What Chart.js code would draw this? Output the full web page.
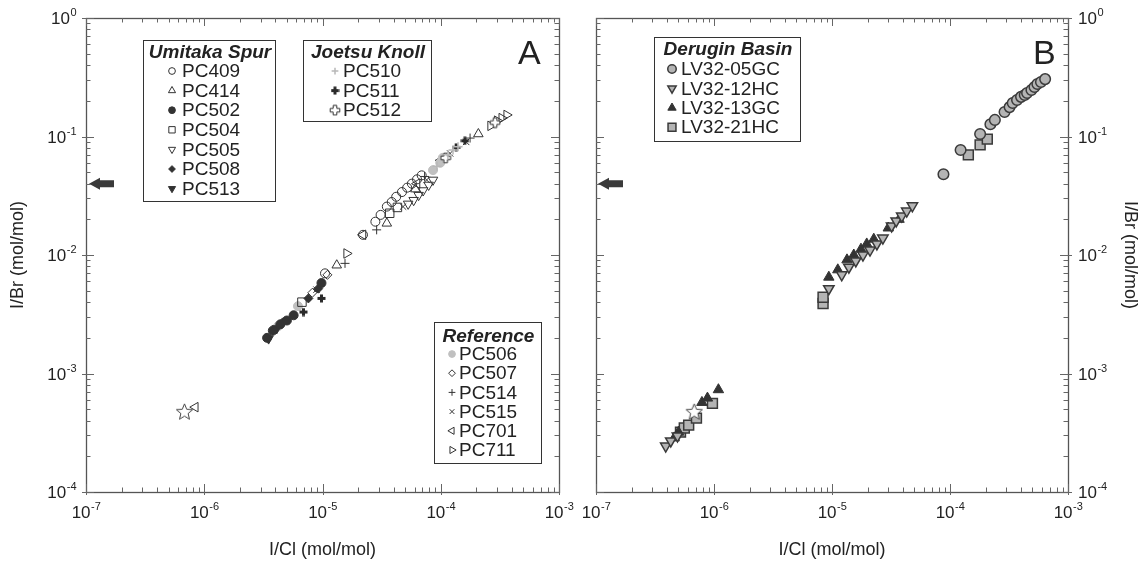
<!DOCTYPE html>
<html>
<head>
<meta charset="utf-8">
<title>I/Br vs I/Cl</title>
<script src="https://cdn.jsdelivr.net/npm/chart.js@4.4.1/dist/chart.umd.min.js"></script>
<style>
  html, body { margin: 0; padding: 0; background: #fff; }
  #wrap { position: relative; width: 1144px; height: 561px; }
  #wrap canvas { position: absolute; top: 0; }
  #panelA { left: 0; }
  #panelB { left: 572px; }
</style>
</head>
<body>
<div id="wrap">
  <canvas id="panelA" width="600" height="561"></canvas>
  <canvas id="panelB" width="572" height="561"></canvas>
</div>
<script>
// axis ranges and decade labels (exponents of 10)
const xRange = [1e-7, 1e-3];
const yRange = [1e-4, 1];
const xDecades = [-7, -6, -5, -4, -3];
const yDecades = [-4, -3, -2, -1, 0];

// seawater (star) and the level marked by the arrow on the I/Br axis
const seawater = [[6.8e-7, 4.8e-4]];
const arrowLevel = 0.04;

// Panel A - [I/Cl, I/Br] for each core
const pc409 = [[1.05e-5, 0.0070], [2.2e-5, 0.0148], [2.8e-5, 0.0191], [3.1e-5, 0.0218], [3.5e-5, 0.0256], [3.85e-5, 0.028], [4.2e-5, 0.031], [4.7e-5, 0.034], [5.2e-5, 0.037], [5.7e-5, 0.040], [6.3e-5, 0.0435], [6.9e-5, 0.047]];
const pc414 = [[1.32e-5, 0.0082], [3.5e-5, 0.0185], [6.1e-5, 0.036], [2.08e-4, 0.105]];
const pc502 = [[3.4e-6, 0.0020], [3.8e-6, 0.0023], [4.4e-6, 0.0026], [5.0e-6, 0.0028], [5.7e-6, 0.0031], [9.8e-6, 0.0058]];
const pc504 = [[6.7e-6, 0.0040], [3.7e-5, 0.0225], [4.3e-5, 0.0252]];
const pc505 = [[5.3e-5, 0.027], [5.9e-5, 0.029], [6.5e-5, 0.032], [7.1e-5, 0.035], [7.9e-5, 0.039], [8.6e-5, 0.043]];
const pc508 = [[4.6e-6, 0.0027], [7.6e-6, 0.0043], [9.2e-6, 0.0052]];
const pc513 = [[3.5e-6, 0.00197], [4.1e-6, 0.0024]];
const pc510 = [[9.3e-5, 0.056], [1.15e-4, 0.070], [1.27e-4, 0.077], [1.4e-4, 0.082]];
const pc511 = [[6.9e-6, 0.0033], [9.8e-6, 0.0043], [1.35e-4, 0.081], [1.6e-4, 0.092]];
const pc512 = [[1.1e-4, 0.066], [2.88e-4, 0.131]];
const pc506 = [[4.2e-6, 0.0025], [6.2e-6, 0.0037], [8.6e-5, 0.052], [9.9e-5, 0.060], [1.04e-4, 0.066]];
const pc507 = [[8.2e-6, 0.0048], [1.1e-5, 0.0068]];
const pc514 = [[1.55e-5, 0.0085], [2.87e-5, 0.0163], [7.3e-5, 0.046], [1.77e-4, 0.097]];
const pc515 = [[8.9e-6, 0.0051], [4.8e-5, 0.0256], [7.6e-5, 0.043], [1.2e-4, 0.072], [1.64e-4, 0.090]];
const pc701 = [[8.4e-7, 5.2e-4], [2.2e-5, 0.0148], [6.3e-5, 0.040], [1.0e-4, 0.063]];
const pc711 = [[1.6e-5, 0.0103], [2.64e-4, 0.123], [3.0e-4, 0.136], [3.28e-4, 0.143], [3.61e-4, 0.152]];

// Panel B - Derugin Basin cores
const lv05gc = [[8.8e-5, 0.048], [1.23e-4, 0.077], [1.8e-4, 0.105], [2.2e-4, 0.127], [2.4e-4, 0.138], [2.9e-4, 0.161], [3.2e-4, 0.177], [3.4e-4, 0.192], [3.7e-4, 0.203], [4.0e-4, 0.216], [4.3e-4, 0.224], [4.5e-4, 0.233], [4.9e-4, 0.247], [5.2e-4, 0.262], [5.5e-4, 0.277], [5.9e-4, 0.288], [6.4e-4, 0.305]];
const lv12hc = [[3.9e-7, 2.44e-4], [4.3e-7, 2.7e-4], [4.9e-7, 2.97e-4], [9.4e-6, 5.2e-3], [1.21e-5, 6.8e-3], [1.39e-5, 7.9e-3], [1.59e-5, 8.9e-3], [1.83e-5, 1.0e-2], [2.1e-5, 1.1e-2], [2.4e-5, 1.24e-2], [2.7e-5, 1.39e-2], [3.2e-5, 1.76e-2], [3.5e-5, 1.94e-2], [3.9e-5, 2.13e-2], [4.3e-5, 2.35e-2], [4.8e-5, 2.6e-2]];
const lv13gc = [[4.6e-7, 2.86e-4], [5.0e-7, 3.2e-4], [7.9e-7, 5.7e-4], [8.8e-7, 6.2e-4], [1.09e-6, 7.3e-4], [9.4e-6, 6.5e-3], [1.12e-5, 7.5e-3], [1.34e-5, 9.1e-3], [1.53e-5, 1.0e-2], [1.76e-5, 1.12e-2], [1.97e-5, 1.24e-2], [2.26e-5, 1.36e-2], [3.0e-5, 1.69e-2], [3.7e-5, 2.0e-2]];
const lv21hc = [[5.2e-7, 3.2e-4], [5.6e-7, 3.47e-4], [6.1e-7, 3.67e-4], [7.1e-7, 4.2e-4], [9.7e-7, 5.6e-4], [8.4e-6, 3.9e-3], [8.4e-6, 4.4e-3], [1.43e-4, 0.070], [1.8e-4, 0.085], [2.07e-4, 0.095]];

const FONT = '"Liberation Sans", Arial, sans-serif';
const INK = '#222';
const DARK = '#333';
const NONE = 'rgba(0,0,0,0)';

// small canvases used as point styles for the shapes Chart.js lacks
function icon(size, draw) {
  const c = document.createElement('canvas');
  c.width = size; c.height = size;
  draw(c.getContext('2d'), size / 2);
  return c;
}
const boldPlus = icon(9, (g, m) => {
  g.fillStyle = '#2a2a2a';
  g.fillRect(m - 1.5, 0.5, 3, 8);
  g.fillRect(0.5, m - 1.5, 8, 3);
});
const hollowPlus = icon(12, (g, m) => {
  const a = 1.8, b = 4.8;
  const pts = [[-a, -b], [a, -b], [a, -a], [b, -a], [b, a], [a, a], [a, b], [-a, b], [-a, a], [-b, a], [-b, -a], [-a, -a]];
  g.beginPath();
  pts.forEach(([px, py]) => g.lineTo(m + px, m + py));
  g.closePath();
  g.fillStyle = '#fff'; g.fill();
  g.strokeStyle = DARK; g.lineWidth = 1; g.stroke();
});
const starIcon = icon(19, (g, m) => {
  g.beginPath();
  for (let i = 0; i < 10; i++) {
    const r = i % 2 ? 3.8 : 8.5;
    const ang = -Math.PI / 2 + i * Math.PI / 5;
    g.lineTo(m + r * Math.cos(ang), m + 1 + r * Math.sin(ang));
  }
  g.closePath();
  g.fillStyle = '#fff'; g.fill();
  g.strokeStyle = '#444'; g.lineWidth = 1; g.stroke();
});

function series(label, data, style) {
  return Object.assign({
    label,
    data: data.map(([x, y]) => ({ x, y })),
    pointStyle: 'circle',
    pointRotation: 0,
    pointRadius: 4.5,
    pointBorderWidth: 1,
    pointBorderColor: DARK,
    pointBackgroundColor: NONE
  }, style);
}

const datasetsA = [
  series('PC409', pc409, { pointStyle: 'circle' }),
  series('PC414', pc414, { pointStyle: 'triangle', pointRadius: 5.5 }),
  series('PC502', pc502, { pointBackgroundColor: DARK }),
  series('PC504', pc504, { pointStyle: 'rect', pointRadius: 6 }),
  series('PC505', pc505, { pointStyle: 'triangle', pointRotation: 180, pointRadius: 5.5 }),
  series('PC508', pc508, { pointStyle: 'rectRot', pointBackgroundColor: DARK, pointRadius: 4.5 }),
  series('PC513', pc513, { pointStyle: 'triangle', pointRotation: 180, pointRadius: 5.5, pointBackgroundColor: DARK }),
  series('PC510', pc510, { pointStyle: 'cross', pointRadius: 4.5, pointBorderColor: '#b8b8b8', pointBorderWidth: 1.5 }),
  series('PC511', pc511, { pointStyle: boldPlus }),
  series('PC512', pc512, { pointStyle: hollowPlus }),
  series('PC506', pc506, { pointBackgroundColor: '#c0c0c0', pointBorderColor: '#c0c0c0' }),
  series('PC507', pc507, { pointStyle: 'rectRot', pointRadius: 4.5 }),
  series('PC514', pc514, { pointStyle: 'cross', pointRadius: 4.5 }),
  series('PC515', pc515, { pointStyle: 'crossRot', pointRadius: 4.5 }),
  series('PC701', pc701, { pointStyle: 'triangle', pointRotation: 270, pointRadius: 5.5 }),
  series('PC711', pc711, { pointStyle: 'triangle', pointRotation: 90, pointRadius: 5.5 }),
  series('Seawater', seawater, { pointStyle: starIcon })
];

const GRAY = '#b4b4b4';
const EDGE = '#3a3a3a';
const datasetsB = [
  series('Seawater', seawater, { pointStyle: starIcon }),
  series('LV32-05GC', lv05gc, { pointRadius: 5.3, pointBackgroundColor: GRAY, pointBorderColor: EDGE, pointBorderWidth: 1.5 }),
  series('LV32-12HC', lv12hc, { pointStyle: 'triangle', pointRotation: 180, pointRadius: 6, pointBackgroundColor: GRAY, pointBorderColor: EDGE, pointBorderWidth: 1.5 }),
  series('LV32-13GC', lv13gc, { pointStyle: 'triangle', pointRadius: 6, pointBackgroundColor: DARK, pointBorderColor: DARK, pointBorderWidth: 1 }),
  series('LV32-21HC', lv21hc, { pointStyle: 'rect', pointRadius: 7, pointBackgroundColor: GRAY, pointBorderColor: EDGE, pointBorderWidth: 1.5 })
];

// decade + minor tick values for a log axis
function tickValues(decades) {
  const vals = [];
  decades.forEach((d, i) => {
    if (i === decades.length - 1) { vals.push({ v: Math.pow(10, d), major: true }); return; }
    for (let k = 1; k <= 9; k++) vals.push({ v: k * Math.pow(10, d), major: k === 1 });
  });
  return vals;
}

function drawPower(ctx, exp, x, y, align) {
  ctx.font = '17px ' + FONT;
  const wb = ctx.measureText('10').width;
  ctx.font = '11px ' + FONT;
  const we = ctx.measureText(String(exp)).width;
  const left = align === 'center' ? x - (wb + we) / 2 : align === 'right' ? x - wb - we : x;
  ctx.textAlign = 'left';
  ctx.textBaseline = 'alphabetic';
  ctx.font = '17px ' + FONT;
  ctx.fillText('10', left, y + 6);
  ctx.font = '11px ' + FONT;
  ctx.fillText(String(exp), left + wb + 0.5, y - 2);
}

function drawLegend(chart, box) {
  const ctx = chart.ctx;
  ctx.fillStyle = '#fff';
  ctx.fillRect(box.x, box.y, box.w, box.h);
  ctx.strokeStyle = '#333';
  ctx.lineWidth = 1;
  ctx.strokeRect(box.x + 0.5, box.y + 0.5, box.w, box.h);
  ctx.fillStyle = INK;
  ctx.font = 'italic bold 19px ' + FONT;
  ctx.textAlign = 'center';
  ctx.textBaseline = 'middle';
  ctx.fillText(box.title, box.x + box.w / 2 + 1, box.titleY);
  box.items.forEach((label, i) => {
    const ds = chart.data.datasets.find(d => d.label === label);
    const y = box.firstY + i * box.step;
    ctx.save();
    ctx.fillStyle = ds.pointBackgroundColor;
    ctx.strokeStyle = ds.pointBorderColor;
    ctx.lineWidth = ds.pointBorderWidth;
    Chart.helpers.drawPoint(ctx, {
      pointStyle: ds.pointStyle,
      rotation: ds.pointRotation,
      radius: ds.pointRadius * box.scale,
      borderWidth: ds.pointBorderWidth
    }, box.markerX, y);
    ctx.restore();
    ctx.fillStyle = INK;
    ctx.font = '19px ' + FONT;
    ctx.textAlign = 'left';
    ctx.textBaseline = 'middle';
    ctx.fillText(label, box.textX, y + 1);
  });
}

// frame, inward ticks, power-of-ten labels, titles, arrow, legends and panel letter
function panelDecor(cfg) {
  return {
    id: 'panelDecor',
    afterDatasetsDraw(chart) {
      const { ctx, chartArea: a, scales: { x, y } } = chart;
      const snap = v => Math.round(v) + 0.5;
      ctx.save();
      ctx.strokeStyle = '#555';
      ctx.lineWidth = 1.3;
      ctx.strokeRect(snap(a.left), snap(a.top), Math.round(a.right - a.left), Math.round(a.bottom - a.top));

      ctx.lineWidth = 1;
      ctx.strokeStyle = '#666';
      ctx.beginPath();
      tickValues(xDecades).forEach(t => {
        const px = snap(x.getPixelForValue(t.v));
        const len = t.major ? 8 : 4.5;
        ctx.moveTo(px, a.bottom + (t.major ? 3 : 0)); ctx.lineTo(px, a.bottom - len);
        ctx.moveTo(px, a.top); ctx.lineTo(px, a.top + len);
      });
      tickValues(yDecades).forEach(t => {
        const py = snap(y.getPixelForValue(t.v));
        const len = t.major ? 8 : 4.5;
        const outL = t.major && cfg.side === 'left' ? 4 : 0;
        const outR = t.major && cfg.side === 'right' ? 4 : 0;
        ctx.moveTo(a.left - outL, py); ctx.lineTo(a.left + len, py);
        ctx.moveTo(a.right - len, py); ctx.lineTo(a.right + outR, py);
      });
      ctx.stroke();

      ctx.fillStyle = INK;
      xDecades.forEach(d => drawPower(ctx, d, x.getPixelForValue(Math.pow(10, d)), a.bottom + 20, 'center'));
      yDecades.forEach(d => {
        const py = y.getPixelForValue(Math.pow(10, d));
        if (cfg.side === 'left') drawPower(ctx, d, a.left - 10, py, 'right');
        else drawPower(ctx, d, a.right + 10, py, 'left');
      });

      // axis titles
      ctx.font = '18px ' + FONT;
      ctx.textAlign = 'center';
      ctx.textBaseline = 'middle';
      ctx.fillText('I/Cl (mol/mol)', (a.left + a.right) / 2, 550);
      ctx.save();
      ctx.translate(cfg.yTitleX, (a.top + a.bottom) / 2);
      ctx.rotate(cfg.side === 'left' ? -Math.PI / 2 : Math.PI / 2);
      ctx.fillText('I/Br (mol/mol)', 0, 0);
      ctx.restore();

      // arrow at the marked I/Br level
      const ay = y.getPixelForValue(arrowLevel);
      const ax = a.left + cfg.arrowInset;
      ctx.fillStyle = '#3a3a3a';
      ctx.beginPath();
      ctx.moveTo(ax, ay);
      ctx.lineTo(ax + 11, ay - 6);
      ctx.lineTo(ax + 11, ay - 3.5);
      ctx.lineTo(ax + 25, ay - 3.5);
      ctx.lineTo(ax + 25, ay + 3.5);
      ctx.lineTo(ax + 11, ay + 3.5);
      ctx.lineTo(ax + 11, ay + 6);
      ctx.closePath();
      ctx.fill();

      cfg.legends.forEach(box => drawLegend(chart, box));

      ctx.fillStyle = INK;
      ctx.font = '34px ' + FONT;
      ctx.textAlign = 'left';
      ctx.textBaseline = 'alphabetic';
      ctx.fillText(cfg.letter, cfg.letterX, 64);
      ctx.restore();
    }
  };
}

function buildPanel(id, datasets, padding, decor) {
  return new Chart(document.getElementById(id), {
    type: 'scatter',
    data: { datasets },
    options: {
      responsive: false,
      animation: false,
      events: [],
      layout: { padding },
      plugins: { legend: { display: false }, tooltip: { enabled: false } },
      scales: {
        x: { type: 'logarithmic', min: xRange[0], max: xRange[1], display: false },
        y: { type: 'logarithmic', min: yRange[0], max: yRange[1], display: false }
      }
    },
    plugins: [decor]
  });
}

buildPanel('panelA', datasetsA, { left: 86, right: 41, top: 18, bottom: 69 }, panelDecor({
  side: 'left', yTitleX: 18, arrowInset: 3, letter: 'A', letterX: 518,
  legends: [
    { title: 'Umitaka Spur', x: 143, y: 40, w: 132, h: 161, titleY: 53, firstY: 71, step: 19.6, markerX: 172, textX: 182, scale: 0.75,
      items: ['PC409', 'PC414', 'PC502', 'PC504', 'PC505', 'PC508', 'PC513'] },
    { title: 'Joetsu Knoll', x: 303, y: 40, w: 128, h: 81, titleY: 53, firstY: 71, step: 19.6, markerX: 335, textX: 343, scale: 0.75,
      items: ['PC510', 'PC511', 'PC512'] },
    { title: 'Reference', x: 434, y: 322, w: 107, h: 141, titleY: 337, firstY: 354, step: 19.2, markerX: 452, textX: 459, scale: 0.75,
      items: ['PC506', 'PC507', 'PC514', 'PC515', 'PC701', 'PC711'] }
  ]
}));

buildPanel('panelB', datasetsB, { left: 24, right: 76, top: 18, bottom: 69 }, panelDecor({
  side: 'right', yTitleX: 558, arrowInset: 2, letter: 'B', letterX: 461,
  legends: [
    { title: 'Derugin Basin', x: 82, y: 37, w: 146, h: 104, titleY: 50, firstY: 69, step: 19.4, markerX: 100, textX: 109, scale: 0.8,
      items: ['LV32-05GC', 'LV32-12HC', 'LV32-13GC', 'LV32-21HC'] }
  ]
}));
</script>
</body>
</html>
